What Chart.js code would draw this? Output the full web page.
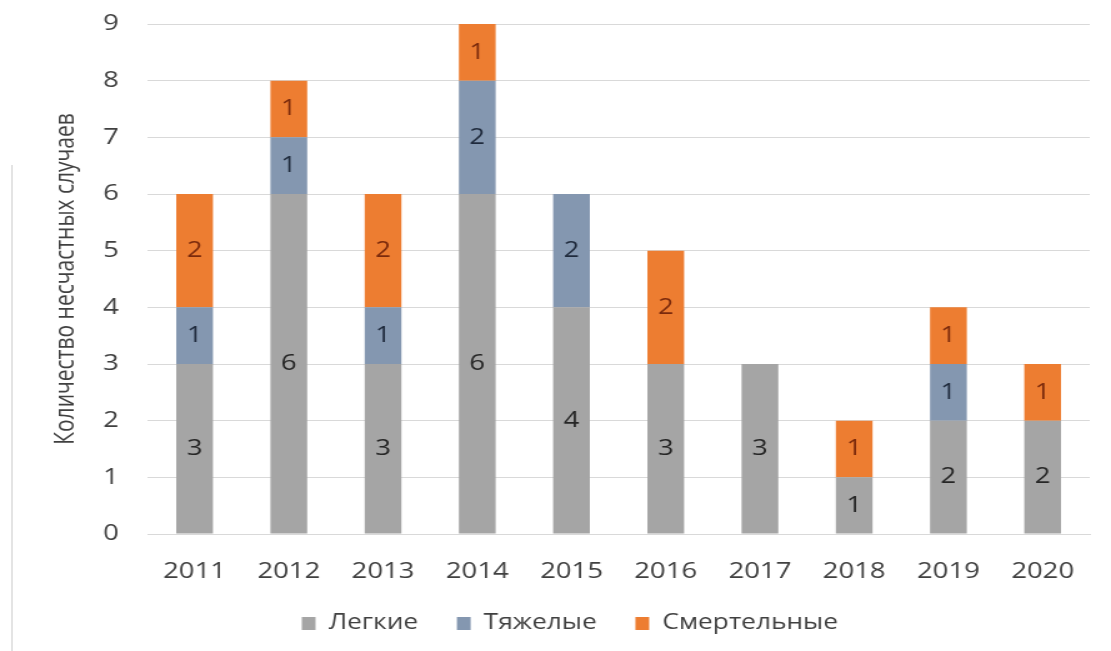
<!DOCTYPE html>
<html>
<head>
<meta charset="utf-8">
<script src="https://cdn.jsdelivr.net/npm/chart.js@4"></script>
<style>
  html, body { margin: 0; padding: 0; background: #fff; }
  #wrap { position: relative; width: 1111px; height: 651px; }
  #frame { position: absolute; left: 11px; top: 165px; width: 0; height: 486px; border-left: 2px solid #e4e4e4; }
</style>
</head>
<body>
<div id="wrap">
  <!-- drawn at 889 wide and shown at 1111, so everything is a bit wider -->
  <canvas id="myChart" width="889" height="651" style="width:1111px;height:651px"></canvas>
  <div id="frame"></div>
</div>
<script>
const years = ['2011', '2012', '2013', '2014', '2015', '2016', '2017', '2018', '2019', '2020'];
const legkie = [3, 6, 3, 6, 4, 3, 3, 1, 2, 2];
const tyazhelye = [1, 1, 1, 2, 2, 0, 0, 0, 1, 0];
const smertelnye = [2, 1, 2, 1, 0, 2, 0, 1, 1, 1];

const seriesNames = ['Легкие', 'Тяжелые', 'Смертельные'];
const yTitle = 'Количество несчастных случаев';

const FONT = "'Open Sans', sans-serif";

// numbers in the middle of each segment
const segmentLabels = {
  id: 'segmentLabels',
  afterDatasetsDraw(chart) {
    const ctx = chart.ctx;
    ctx.save();
    ctx.font = '22px ' + FONT;
    ctx.textAlign = 'center';
    ctx.textBaseline = 'middle';
    chart.data.datasets.forEach((ds, i) => {
      const meta = chart.getDatasetMeta(i);
      meta.data.forEach((bar, j) => {
        const v = ds.data[j];
        if (!v) return;
        ctx.fillStyle = ds.labelColor;
        ctx.fillText(v, bar.x, (bar.y + bar.base) / 2);
      });
    });
    ctx.restore();
  }
};

const ctx = document.getElementById('myChart');

new Chart(ctx, {
  type: 'bar',
  data: {
    labels: years,
    datasets: [
      { label: seriesNames[0], data: legkie, backgroundColor: '#a5a5a5', labelColor: '#262626' },
      { label: seriesNames[1], data: tyazhelye, backgroundColor: '#8497b0', labelColor: '#1f2a3c' },
      { label: seriesNames[2], data: smertelnye, backgroundColor: '#ed7d31', labelColor: '#7b2a0c' }
    ]
  },
  options: {
    responsive: false,
    animation: false,
    layout: { padding: { top: 24, right: 17, left: 40, bottom: 7 } },
    datasets: {
      bar: { categoryPercentage: 1, barPercentage: 0.39 }
    },
    plugins: {
      tooltip: { enabled: false },
      legend: {
        position: 'bottom',
        labels: {
          font: { family: FONT, size: 21 },
          color: '#404040',
          boxWidth: 11,
          boxHeight: 13,
          padding: 10,
          // wider gap between items without a taller legend
          generateLabels(chart) {
            const items = Chart.defaults.plugins.legend.labels.generateLabels(chart);
            items.forEach((it, i) => {
              if (i < items.length - 1) it.text += '\u2003';
            });
            return items;
          }
        }
      }
    },
    scales: {
      x: {
        stacked: true,
        grid: { display: false, drawTicks: false },
        border: { display: true, color: '#d9d9d9', width: 1 },
        ticks: { font: { family: FONT, size: 22 }, color: '#404040', padding: 25 },
        afterFit(scale) { scale.height = 69; }
      },
      y: {
        stacked: true,
        min: 0,
        max: 9,
        ticks: { stepSize: 1, font: { family: FONT, size: 22 }, color: '#404040', padding: 23 },
        grid: { color: '#d9d9d9', drawTicks: false },
        border: { display: false },
        title: {
          display: true,
          text: yTitle,
          font: { family: FONT, size: 21 },
          color: '#404040',
          padding: { top: 0, bottom: 0 }
        },
        afterFit(scale) {
          scale.width = 78;
          scale.paddingTop = 0;
          scale.paddingBottom = 0;
        }
      }
    }
  },
  plugins: [segmentLabels]
});
</script>
</body>
</html>
